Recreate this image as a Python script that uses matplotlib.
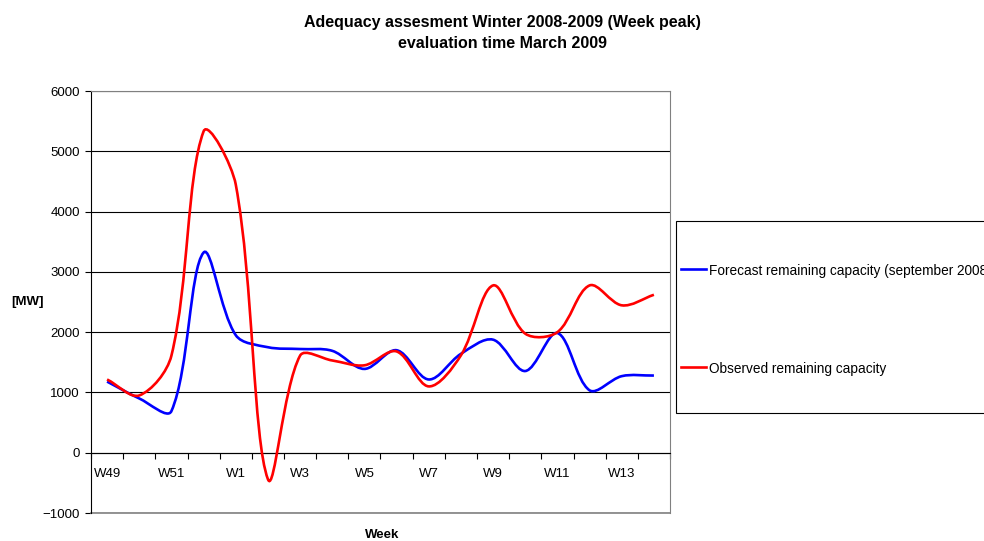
import matplotlib
matplotlib.use('Agg')
import numpy as np
import matplotlib.pyplot as plt
from matplotlib.path import Path
from matplotlib.patches import PathPatch, Rectangle
from matplotlib.lines import Line2D

plt.rcParams['font.family'] = ['Liberation Sans', 'DejaVu Sans']

# data
weeks = ['W49', 'W50', 'W51', 'W52', 'W1', 'W2', 'W3', 'W4', 'W5', 'W6',
         'W7', 'W8', 'W9', 'W10', 'W11', 'W12', 'W13', 'W14']
forecast = [1180, 900, 690, 3320, 1950, 1750, 1720, 1690, 1390, 1700,
            1215, 1640, 1875, 1355, 1985, 1035, 1270, 1280]
observed = [1215, 950, 1610, 5330, 4450, -440, 1610, 1530, 1450, 1680,
            1100, 1615, 2775, 1975, 2000, 2775, 2445, 2620]
series_names = ['Forecast remaining capacity (september 2008)',
                'Observed remaining capacity']
series_colors = ['#0000ff', '#ff0000']


def smooth_path(ax, xs, ys):
    # excel style smoothing: bezier, handles weighted by segment length (in pixels)
    pts = ax.transData.transform(np.column_stack([xs, ys]))
    n = len(pts)
    verts = [pts[0]]
    codes = [Path.MOVETO]
    for i in range(n - 1):
        p0 = pts[i - 1] if i > 0 else pts[i]
        p1 = pts[i]
        p2 = pts[i + 1]
        p3 = pts[i + 2] if i + 2 < n else pts[i + 1]
        l01 = np.hypot(*(p1 - p0))
        l12 = np.hypot(*(p2 - p1))
        l23 = np.hypot(*(p3 - p2))
        c1 = p1 + (p2 - p0) * (l12 / (l01 + l12)) / 3
        c2 = p2 - (p3 - p1) * (l12 / (l12 + l23)) / 3
        verts += [c1, c2, p2]
        codes += [Path.CURVE4] * 3
    verts = ax.transData.inverted().transform(np.array(verts))
    return Path(verts, codes)


W, H = 984, 541
fig = plt.figure(figsize=(W / 100, H / 100), dpi=100)
ax = fig.add_axes([91 / W, 1 - 513 / H, (670 - 91) / W, (513 - 91) / H])

x = list(range(len(weeks)))
ax.set_xlim(-0.5, len(weeks) - 0.5)
ax.set_ylim(-1000, 6000)
for vals, col in zip([forecast, observed], series_colors):
    ax.add_patch(PathPatch(smooth_path(ax, x, vals), facecolor='none',
                           edgecolor=col, lw=1.9, zorder=3))

ax.set_yticks(range(-1000, 7000, 1000))
ax.yaxis.grid(True, color='black', lw=0.8)
ax.set_axisbelow(True)
ax.tick_params(axis='y', direction='out', length=4, labelsize=9.5, pad=4)

# x axis sits at y = 0
ax.spines['bottom'].set_position(('data', 0))
ax.spines['bottom'].set_color('black')
ax.spines['left'].set_color('black')
for s in ['top', 'right']:
    ax.spines[s].set_color('#808080')
ax.axhline(-1000, color='#808080', lw=1.2, clip_on=False)
ax.set_xticks([i - 0.5 for i in range(len(weeks) + 1)])
ax.set_xticklabels([])
ax.set_xticks(x[::2], minor=True)
ax.set_xticklabels(weeks[::2], minor=True)
ax.tick_params(axis='x', which='major', direction='out', length=4)
ax.tick_params(axis='x', which='minor', length=0, labelsize=9.5, pad=11)

fig.text(502 / W, 1 - 22 / H, 'Adequacy assesment Winter 2008-2009 (Week peak)',
         ha='center', va='center', fontsize=11.5, fontweight='bold')
fig.text(502 / W, 1 - 43 / H, 'evaluation time March 2009',
         ha='center', va='center', fontsize=11.5, fontweight='bold')
fig.text(28 / W, 1 - 302 / H, '[MW]', ha='center', va='center',
         fontsize=9.5, fontweight='bold')
fig.text(382 / W, 1 - 535 / H, 'Week', ha='center', va='center',
         fontsize=9.5, fontweight='bold')

# legend box, running off the right edge
fig.add_artist(Rectangle((676 / W, 1 - 413 / H), 330 / W, 192 / H,
                         transform=fig.transFigure, facecolor='white',
                         edgecolor='black', lw=0.8))
for name, col, yy in zip(series_names, series_colors, [269, 367]):
    fig.add_artist(Line2D([681 / W, 706 / W], [1 - yy / H, 1 - yy / H],
                          transform=fig.transFigure, color=col, lw=1.9))
    fig.text(709 / W, 1 - (yy + 1.5) / H, name, ha='left', va='center',
             fontsize=9.8)

fig.savefig('out.png', dpi=100)
